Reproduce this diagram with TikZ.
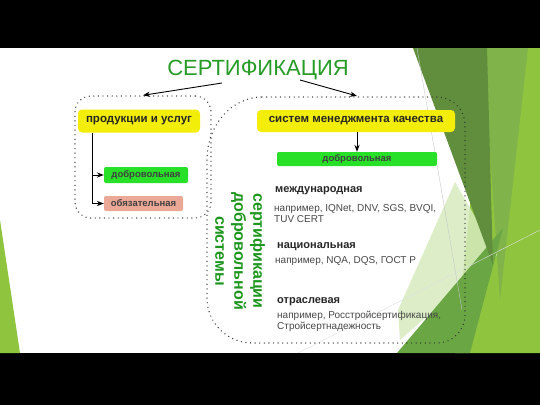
\documentclass[tikz,border=0pt]{standalone}
\usepackage{fontspec}
\setmainfont{Liberation Sans}
\usetikzlibrary{arrows.meta}

\definecolor{boxyellow}{RGB}{242,238,10}
\definecolor{boxgreen}{RGB}{40,224,40}
\definecolor{boxsalmon}{RGB}{236,168,150}
\definecolor{titlegreen}{RGB}{38,156,38}
\definecolor{vertgreen}{RGB}{28,150,28}
\definecolor{bgbright}{RGB}{143,196,62}
\definecolor{bgmid}{RGB}{128,180,74}
\definecolor{bgdark}{RGB}{96,142,60}
\definecolor{bglow}{RGB}{106,166,68}
\definecolor{bgpale}{RGB}{214,234,190}

\begin{document}
\begin{tikzpicture} [x = 1pt, y = -1pt]
        %style
        \tikzset{yel/.style = {shape=rectangle, fill=boxyellow, rounded corners=4pt, inner sep=0pt, text=black!85, font=\bfseries\fontsize{11.5}{13}\selectfont, minimum height=23pt}}
        \tikzset{grn/.style = {shape=rectangle, fill=boxgreen, rounded corners=2pt, inner sep=0pt, text=black!75, font=\bfseries\fontsize{9.5}{11}\selectfont}}
        \tikzset{sal/.style = {grn, fill=boxsalmon}}
        \tikzset{dotline/.style = {draw=black!80, line width=1.4pt, dash pattern=on 0pt off 4.6pt, line cap=round}}
        \tikzset{dotbox/.style = {shape=rectangle, dotline, rounded corners=16pt, inner sep=0pt}}
        \tikzset{head/.style = {anchor=west, inner sep=0pt, text=black!85, font=\bfseries\fontsize{11}{13}\selectfont}}
        \tikzset{note/.style = {anchor=west, inner sep=0pt, align=left, text=black!72, font=\fontsize{10}{11}\selectfont}}
        \tikzset{arr/.style = {-{Stealth[length=7pt]}, line width=0.9pt, black}}
        % slide and bands
        \useasboundingbox (0,0) rectangle (540,405);
        \fill[white] (0,48) rectangle (540,353);
        \fill[black] (0,0) rectangle (540,48);
        \fill[black] (0,353) rectangle (540,405);
        % green facets
        \fill[bgbright] (0,220) -- (20,353) -- (0,353) -- cycle;
        \fill[bgbright] (486,48) -- (540,48) -- (540,353) -- (455,353) -- cycle;
        \fill[bgmid] (483,48) -- (528,48) -- (500,300) -- cycle;
        \fill[bgpale, opacity=0.85] (455,182) -- (497,255) -- (400,340) -- (398,310) -- cycle;
        \fill[bglow] (397,353) -- (503,228) -- (470,353) -- cycle;
        \fill[bgdark] (413,48) -- (487,48) -- (493,265) -- cycle;
        \draw[black!22, line width=0.4pt] (417,48) -- (462,310);
        \draw[black!12, line width=0.4pt] (298,353) -- (540,230);
        % title
        \node[text=titlegreen, font=\fontsize{22}{24}\selectfont] (title) at (258,70) {СЕРТИФИКАЦИЯ};
        % left group
        \node[dotbox, minimum width=136pt, minimum height=122pt] (lbox) at (143,157) {};
        \node[yel, minimum width=122pt] (lprod) at (139,121) {продукции и услуг};
        \node[grn, minimum width=84pt, minimum height=16pt] (lvol) at (146,175) {добровольная};
        \node[sal, minimum width=79pt, minimum height=15pt] (lobl) at (143.5,203.5) {обязательная};
        \coordinate (lroot) at (92,133);
        \draw [arr] (lroot) |- (lvol.west);
        \draw [arr] (lroot) |- (lobl.west);
        % right group
        \draw[dotline] (262,97) -- (437,97) .. controls (452.5,97) and (465,109.5) .. (465,125)
                -- (465,315) .. controls (465,330.5) and (452.5,343) .. (437,343)
                -- (252,343) .. controls (227.2,343) and (207,322.8) .. (207,298)
                -- (207,160) .. controls (207,125.2) and (231.6,97) .. (262,97);
        \coordinate (rtop) at (357,96);
        \node[yel, minimum width=198pt, minimum height=22pt] (rsys) at (356,121) {систем менеджмента качества};
        \node[grn, minimum width=160pt, minimum height=14pt] (rvol) at (357,159) {добровольная};
        \draw [arr] (rsys.south -| rvol.north) -- (rvol.north);
        \node[rotate=-90, align=center, text=vertgreen, font=\bfseries\fontsize{16}{19}\selectfont] (volsys) at (240,251) {сертификации\\добровольной\\системы};
        \node[head] (intl) at (275,191) {международная};
        \node[note] (intlex) at (274,213.5) {например, IQNet, DNV, SGS, BVQI,\\TUV CERT};
        \node[head] (natl) at (277,247) {национальная};
        \node[note] (natlex) at (275,261) {например, NQA, DQS, ГОСТ Р};
        \node[head] (branch) at (277,302) {отраслевая};
        \node[note] (branchex) at (277,321.5) {например, Росстройсертификация,\\Стройсертнадежность};
        % from title
        \coordinate (tl) at (222,83);
        \coordinate (tr) at (300,80);
        \draw [arr] (tl) -- (lbox.north);
        \draw [arr] (tr) -- (rtop);
\end{tikzpicture}
\end{document}
